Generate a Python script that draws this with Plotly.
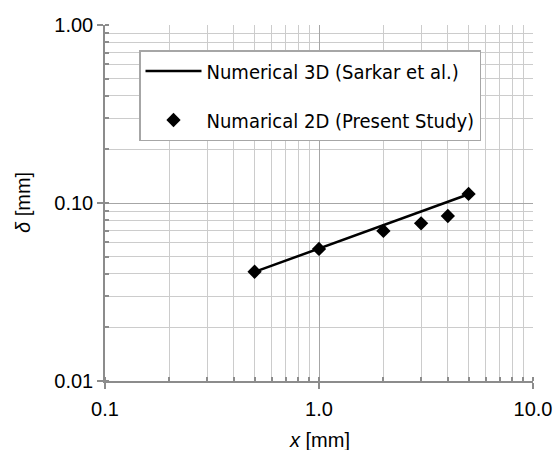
import plotly.graph_objects as go

# Data
x_3d = [0.5, 1.0, 5.0]
y_3d = [0.041, 0.0555, 0.112]
x_2d = [0.5, 1.0, 2.0, 3.0, 4.0, 5.0]
y_2d = [0.0411, 0.0552, 0.0697, 0.0769, 0.0845, 0.1124]

x_ticks = [0.1, 1.0, 10.0]
x_ticktext = ["0.1", "1.0", "10.0"]
y_ticks = [0.01, 0.1, 1.0]
y_ticktext = ["0.01", "0.10", "1.00"]

x_title = "<i>x</i> [mm]"
y_title = "<i>δ</i> [mm]"

fig = go.Figure()
fig.add_trace(go.Scatter(
    x=x_3d, y=y_3d, mode="lines", name="Numerical 3D (Sarkar et al.)",
    line=dict(color="black", width=2.5), legendgroup="a"))
fig.add_trace(go.Scatter(
    x=x_2d, y=y_2d, mode="markers", name="Numarical 2D (Present Study)",
    marker=dict(symbol="diamond", size=11, color="black"), legendgroup="b"))

axis_common = dict(
    type="log", showline=True, linecolor="#8c8c8c", linewidth=1.5,
    gridcolor="#a6a6a6", gridwidth=1, zeroline=False, automargin=False,
    ticks="outside", ticklen=6, tickcolor="#8c8c8c", tickwidth=1.5,
    tickfont=dict(family="Liberation Sans, Arial", size=20, color="black"),
    minor=dict(dtick="D1", showgrid=True, gridcolor="#cccccc", gridwidth=1,
               ticks="inside", ticklen=4, tickcolor="#8c8c8c"),
)

fig.update_xaxes(**axis_common, range=[-1, 1], tickvals=x_ticks, ticktext=x_ticktext,
                 ticklabelstandoff=3)
fig.update_yaxes(**axis_common, range=[-2, 0], tickvals=y_ticks, ticktext=y_ticktext)

title_font = dict(family="Liberation Sans, Arial", size=20, color="black")
fig.add_annotation(text=x_title, xref="paper", yref="paper", x=0.5, y=(381 - 440) / 356,
                   xanchor="center", yanchor="middle", showarrow=False, font=title_font)
fig.add_annotation(text=y_title, xref="paper", yref="paper", x=(23 - 105) / 428, y=0.5,
                   xanchor="center", yanchor="middle", showarrow=False, textangle=-90,
                   font=title_font)

fig.update_layout(
    width=556, height=450,
    margin=dict(l=105, r=23, t=25, b=69),
    plot_bgcolor="white", paper_bgcolor="white",
    legend=dict(
        x=(139 - 105) / 428, y=(381 - 50) / 356, xanchor="left", yanchor="top",
        bgcolor="white", bordercolor="#a6a6a6", borderwidth=1.5,
        font=dict(family="DejaVu Sans Condensed", size=20, color="black"),
        itemwidth=56, tracegroupgap=20, traceorder="grouped",
    ),
    showlegend=True,
)

fig.write_html("out.html")
